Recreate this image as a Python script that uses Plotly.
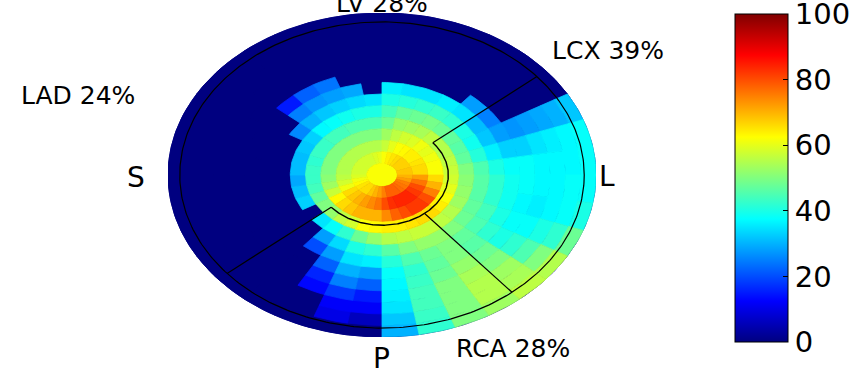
import numpy as np
import plotly.graph_objects as go
from plotly.colors import sample_colorscale

# ---------------- data ----------------
ring_count = 14          # centre disc + 13 rings
sector_deg = 10          # 36 sectors, counter-clockwise from L (east)
center_value = 62
background_value = 0

# values per sector, rings 1..13 (inner -> outer); sector name = start angle
s000 = [68, 66, 62, 57, 50, 45, 40, 38, 38, 37, 37, 37, 38]
s010 = [68, 66, 62, 56, 47, 41, 36, 33, 33, 35, 36, 37, 38]
s020 = [67, 65, 61, 55, 46, 39, 32, 28, 27, 28, 29, 30, 32]
s030 = [67, 64, 60, 55, 47, 40, 31, 25, 0, 0, 0, 0, 0]
s040 = [67, 64, 61, 56, 48, 42, 35, 28, 0, 0, 0, 0, 0]
s050 = [66, 63, 59, 54, 49, 43, 36, 0, 0, 0, 0, 0, 0]
s060 = [65, 62, 58, 53, 48, 42, 35, 0, 0, 0, 0, 0, 0]
s070 = [64, 60, 56, 52, 47, 41, 35, 0, 0, 0, 0, 0, 0]
s080 = [62, 57, 53, 48, 44, 40, 36, 0, 0, 0, 0, 0, 0]
s090 = [60, 55, 50, 45, 40, 35, 0, 0, 0, 0, 0, 0, 0]
s100 = [59, 55, 50, 45, 40, 34, 29, 0, 0, 0, 0, 0, 0]
s110 = [58, 55, 50, 45, 39, 33, 28, 24, 0, 0, 0, 0, 0]
s120 = [58, 55, 50, 44, 38, 32, 27, 22, 0, 0, 0, 0, 0]
s130 = [58, 55, 50, 44, 37, 30, 25, 15, 0, 0, 0, 0, 0]
s140 = [58, 55, 50, 43, 33, 26, 0, 0, 0, 0, 0, 0, 0]
s150 = [58, 55, 50, 43, 32, 0, 0, 0, 0, 0, 0, 0, 0]
s160 = [58, 55, 50, 42, 31, 0, 0, 0, 0, 0, 0, 0, 0]
s170 = [58, 55, 50, 43, 31, 0, 0, 0, 0, 0, 0, 0, 0]
s180 = [59, 56, 51, 43, 29, 0, 0, 0, 0, 0, 0, 0, 0]
s190 = [61, 58, 53, 44, 31, 0, 0, 0, 0, 0, 0, 0, 0]
s200 = [63, 61, 57, 47, 33, 0, 0, 0, 0, 0, 0, 0, 0]
s210 = [65, 66, 63, 50, 0, 0, 0, 0, 0, 0, 0, 0, 0]
s220 = [66, 68, 66, 52, 35, 0, 0, 0, 0, 0, 0, 0, 0]
s230 = [66, 70, 68, 56, 38, 28, 20, 0, 0, 0, 0, 0, 0]
s240 = [68, 72, 70, 58, 42, 34, 28, 22, 16, 13, 0, 0, 0]
s250 = [70, 74, 70, 62, 48, 40, 35, 30, 25, 18, 12, 10, 0]
s260 = [72, 76, 70, 63, 52, 42, 36, 28, 22, 15, 12, 6, 0]
s270 = [75, 80, 74, 64, 55, 46, 41, 38, 37, 36, 35, 32, 30]
s280 = [78, 83, 78, 64, 56, 50, 45, 42, 43, 44, 44, 43, 42]
s290 = [78, 84, 80, 65, 57, 52, 48, 47, 48, 50, 50, 50, 50]
s300 = [78, 84, 82, 66, 57, 52, 50, 50, 52, 54, 55, 55, 53]
s310 = [77, 84, 82, 66, 56, 50, 47, 46, 48, 50, 53, 54, 56]
s320 = [76, 82, 80, 64, 55, 48, 45, 42, 40, 42, 45, 50, 55]
s330 = [75, 80, 75, 62, 53, 47, 44, 40, 38, 38, 40, 42, 48]
s340 = [72, 76, 70, 60, 52, 46, 42, 39, 37, 36, 37, 38, 40]
s350 = [70, 72, 66, 58, 51, 46, 42, 39, 38, 37, 37, 38, 38]

sectors = [s000, s010, s020, s030, s040, s050, s060, s070, s080, s090,
           s100, s110, s120, s130, s140, s150, s160, s170, s180, s190,
           s200, s210, s220, s230, s240, s250, s260, s270, s280, s290,
           s300, s310, s320, s330, s340, s350]

# territory geometry (normalised radius, degrees)
territory_angles = [40, -50, -140]
inner_boundary_r = 0.31
outer_boundary_r = 0.945
inner_arc_span = [-140, 40]

territory_labels = ["LAD 24%", "LCX 39%", "RCA 28%"]
lv_label = "LV 28%"
orientation_labels = ["S", "L", "P"]
cbar_ticks = [0, 20, 40, 60, 80, 100]

# ---------------- figure ----------------
jet = [[0.0, 'rgb(0,0,128)'], [0.125, 'rgb(0,0,255)'], [0.375, 'rgb(0,255,255)'],
       [0.625, 'rgb(255,255,0)'], [0.875, 'rgb(255,0,0)'], [1.0, 'rgb(128,0,0)']]

def color_of(v):
    return sample_colorscale(jet, [min(max(v / 100.0, 0.0), 1.0)])[0]

groups = {}

def add_poly(val, xs, ys):
    g = groups.setdefault(val, ([], []))
    g[0].extend(list(xs) + [xs[0], None])
    g[1].extend(list(ys) + [ys[0], None])

# centre disc
t = np.radians(np.linspace(0, 360, 73))
add_poly(center_value, (np.cos(t) / ring_count).tolist(), (np.sin(t) / ring_count).tolist())

for j, vals in enumerate(sectors):
    a0, a1 = j * sector_deg, (j + 1) * sector_deg
    t = np.radians(np.linspace(a0, a1, 6))
    for k, v in enumerate(vals, start=1):
        r0, r1 = k / ring_count, (k + 1) / ring_count
        xs = np.concatenate([r1 * np.cos(t), r0 * np.cos(t[::-1])])
        ys = np.concatenate([r1 * np.sin(t), r0 * np.sin(t[::-1])])
        add_poly(v, xs.tolist(), ys.tolist())

fig = go.Figure()

# underlay in the background colour so that no seams show between cells
t = np.radians(np.linspace(0, 360, 361))
bg = color_of(background_value)
fig.add_trace(go.Scatter(x=np.cos(t), y=np.sin(t), mode='lines', fill='toself',
                         fillcolor=bg, line=dict(color=bg, width=0.8),
                         hoverinfo='skip', showlegend=False))

for v in sorted(groups):
    col = color_of(v)
    xs, ys = groups[v]
    fig.add_trace(go.Scatter(x=xs, y=ys, mode='lines', fill='toself', fillcolor=col,
                             line=dict(color=col, width=0.8), hoverinfo='skip',
                             showlegend=False))

# black territory boundaries
t = np.radians(np.linspace(0, 360, 361))
fig.add_trace(go.Scatter(x=outer_boundary_r * np.cos(t), y=outer_boundary_r * np.sin(t),
                         mode='lines', line=dict(color='black', width=1.2),
                         hoverinfo='skip', showlegend=False))
t = np.radians(np.linspace(inner_arc_span[0], inner_arc_span[1], 181))
fig.add_trace(go.Scatter(x=inner_boundary_r * np.cos(t), y=inner_boundary_r * np.sin(t),
                         mode='lines', line=dict(color='black', width=1.4),
                         hoverinfo='skip', showlegend=False))
for a in territory_angles:
    ar = np.radians(a)
    fig.add_trace(go.Scatter(x=[inner_boundary_r * np.cos(ar), outer_boundary_r * np.cos(ar)],
                             y=[inner_boundary_r * np.sin(ar), outer_boundary_r * np.sin(ar)],
                             mode='lines', line=dict(color='black', width=1.2),
                             hoverinfo='skip', showlegend=False))

# colorbar carrier
fig.add_trace(go.Scatter(x=[0, 0], y=[0, 0], mode='markers',
                         marker=dict(size=0.1, opacity=0, color=[0, 100], cmin=0, cmax=100,
                                     colorscale=jet, showscale=True,
                                     colorbar=dict(x=1.3248, xanchor='left', xpad=0,
                                                   y=0.4907, yanchor='middle', ypad=0,
                                                   thickness=53, thicknessmode='pixels',
                                                   len=328, lenmode='pixels',
                                                   outlinewidth=1, outlinecolor='black',
                                                   tickvals=cbar_ticks, ticks='inside',
                                                   ticklen=5, tickwidth=1, tickcolor='black',
                                                   ticklabeloverflow='allow',
                                                   tickfont=dict(family='DejaVu Sans',
                                                                 size=29, color='black'))),
                         hoverinfo='skip', showlegend=False))

label_font = dict(family='DejaVu Sans', size=25, color='black')
big_font = dict(family='DejaVu Sans', size=28, color='black')
ann = [
    dict(text=territory_labels[0], x=-0.2103, y=0.7469, font=label_font),
    dict(text=territory_labels[1], x=1.028, y=0.8858, font=label_font),
    dict(text=territory_labels[2], x=0.806, y=-0.034, font=label_font),
    dict(text=lv_label, x=0.5, y=1.029, font=label_font),
    dict(text=orientation_labels[0], x=-0.0748, y=0.4938, font=big_font),
    dict(text=orientation_labels[1], x=1.0257, y=0.4969, font=big_font),
    dict(text=orientation_labels[2], x=0.4977, y=-0.065, font=big_font),
]
for a in ann:
    a.update(xref='paper', yref='paper', showarrow=False, xanchor='center', yanchor='middle')

fig.update_layout(
    width=858, height=371,
    margin=dict(l=168, r=262, t=13, b=34, pad=0, autoexpand=False),
    paper_bgcolor='white', plot_bgcolor='white',
    xaxis=dict(range=[-1, 1], visible=False, fixedrange=True),
    yaxis=dict(range=[-1, 1], visible=False, fixedrange=True),
    annotations=ann, showlegend=False,
)

fig.write_html("out.html")
